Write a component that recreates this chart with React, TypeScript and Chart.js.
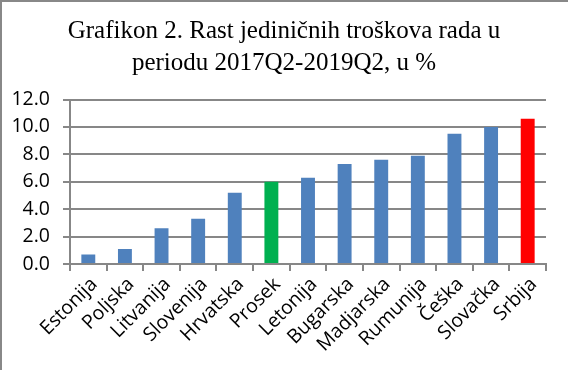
import React, { useEffect, useRef } from "react";
import { Chart, registerables } from "chart.js";

Chart.register(...registerables);

const titleLines = ["Grafikon 2. Rast jediničnih troškova rada u", "periodu 2017Q2-2019Q2, u %"];
const categories = ["Estonija", "Poljska", "Litvanija", "Slovenija", "Hrvatska", "Prosek", "Letonija", "Bugarska", "Madjarska", "Rumunija", "Češka", "Slovačka", "Srbija"];
const values = [0.7, 1.1, 2.6, 3.3, 5.2, 6.0, 6.3, 7.3, 7.6, 7.9, 9.5, 10.0, 10.6];
const barColors = ["#4F81BD", "#4F81BD", "#4F81BD", "#4F81BD", "#4F81BD", "#00B050", "#4F81BD", "#4F81BD", "#4F81BD", "#4F81BD", "#4F81BD", "#4F81BD", "#FF0000"];
const yMin = 0;
const yMax = 12;
const yStep = 2;

const GRID = "#878787";
const TICK_FONT = { family: "'Open Sans', sans-serif", size: 19.5 };

export default function App() {
  const ref = useRef<HTMLCanvasElement | null>(null);
  useEffect(() => {
    if (!ref.current) return;
    const chart = new Chart(ref.current, {
      type: "bar",
      data: {
        labels: categories,
        datasets: [
          {
            data: values,
            backgroundColor: barColors,
            borderWidth: 0,
            barPercentage: 0.38,
            categoryPercentage: 1,
          },
        ],
      },
      options: {
        animation: false,
        responsive: false,
        maintainAspectRatio: false,
        layout: { padding: 0 },
        plugins: {
          legend: { display: false },
          tooltip: { enabled: false },
          title: {
            display: true,
            text: titleLines,
            color: "#000",
            font: { family: "'Liberation Serif'", size: 25, weight: "normal", lineHeight: 1.28 },
            padding: { top: 15, bottom: 20.5 },
          },
        },
        scales: {
          x: {
            grid: {
              display: true,
              offset: true,
              drawOnChartArea: false,
              drawTicks: true,
              tickLength: 7,
              color: GRID,
              lineWidth: 2,
            },
            border: { display: true, color: GRID, width: 2 },
            ticks: {
              color: "#000",
              font: TICK_FONT,
              maxRotation: 45,
              minRotation: 45,
              autoSkip: false,
              padding: 2,
              labelOffset: 6,
            },
            afterFit: (s: any) => {
              s.height = 106;
            },
          },
          y: {
            min: yMin,
            max: yMax,
            grid: {
              color: GRID,
              lineWidth: 2,
              drawTicks: true,
              tickLength: 7,
            },
            border: { display: true, color: GRID, width: 2 },
            ticks: {
              stepSize: yStep,
              color: "#000",
              font: TICK_FONT,
              padding: 13,
              callback: (v: any) => Number(v).toFixed(1),
            },
            afterFit: (s: any) => {
              s.width = 70;
            },
          },
          yr: {
            position: "right",
            display: true,
            grid: { display: false, drawTicks: false },
            border: { display: false },
            ticks: { display: false },
            afterFit: (s: any) => {
              s.width = 22;
            },
          },
        },
      },
    });
    return () => chart.destroy();
  }, []);
  return (
    <div style={{ position: "fixed", left: 0, top: 0, width: 568, height: 370, background: "#fff" }}>
      <canvas ref={ref} width={568} height={370} style={{ position: "absolute", left: 0, top: 0 }} />
      <div style={{ position: "absolute", left: 0, top: 0, width: 2, height: 370, background: "#888" }} />
      <div style={{ position: "absolute", left: 0, top: 0, width: 568, height: 2, background: "#888" }} />
    </div>
  );
}
